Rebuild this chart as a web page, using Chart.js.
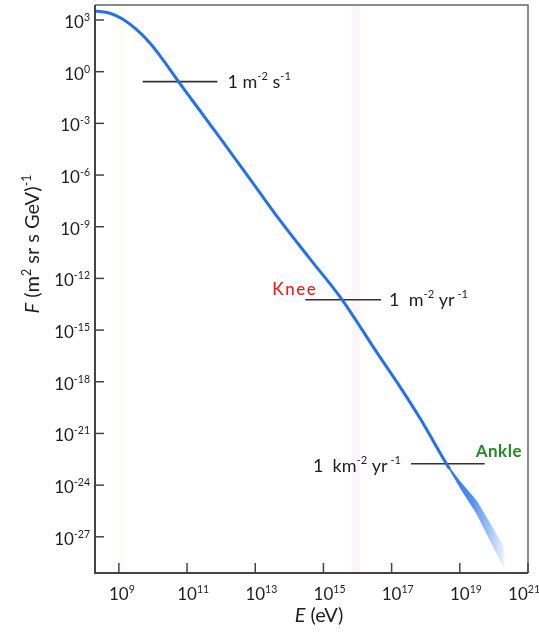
<!DOCTYPE html>
<html lang="en">

<head>
    <meta charset="UTF-8">
    <title>Cosmic ray spectrum</title>
    <style>
        body { margin: 0; background: #fff; }
    </style>
</head>

<body>
    <canvas id="myChart" width="539" height="639"></canvas>

    <script src="https://cdn.jsdelivr.net/npm/chart.js"></script>
    <script type="text/javascript">
        // flux curve (log10 of E in eV, log10 of F)
        const logE = [8.30, 8.74, 9.12, 9.53, 9.91, 10.29, 10.75, 11.43, 11.95, 12.80, 13.71, 14.60, 15.55, 16.60, 17.20, 17.86, 18.62, 18.70];
        const logF = [3.52, 3.39, 3.04, 2.42, 1.66, 0.70, -0.58, -2.40, -3.80, -6.10, -8.59, -10.85, -13.24, -16.40, -18.15, -20.21, -22.80, -23.05];

        // uncertain high energy end, drawn as a widening band
        const bandLogE = [18.62, 19.00, 19.50, 20.29];
        const bandLogF = [-22.80, -23.95, -25.30, -28.17];
        const bandHalf = [0.06, 0.20, 0.40, 0.62];

        // reference flux levels
        const refNames = ['1 m⁻² s⁻¹', '1 m⁻² yr⁻¹', '1 km⁻² yr⁻¹'];
        const refLogF = [-0.58, -13.24, -22.76];
        const refFromLogE = [9.70, 14.47, 17.57];
        const refToLogE = [11.89, 16.69, 19.73];

        // ticks: value and the exponent shown as superscript on "10"
        const xTickValues = [1e9, 1e11, 1e13, 1e15, 1e17, 1e19, 1e21];
        const xTickLabels = ['9', '11', '13', '15', '17', '19', '21'];
        const yTickValues = [1e3, 1, 1e-3, 1e-6, 1e-9, 1e-12, 1e-15, 1e-18, 1e-21, 1e-24, 1e-27];
        const yTickLabels = ['3', '0', '-3', '-6', '-9', '-12', '-15', '-18', '-21', '-24', '-27'];

        const FONT = 'Lato, "Noto Sans", sans-serif';
        const BLUE = '#2471ea';
        const INK = '#1e1e1e';

        const pts = (xs, ys) => xs.map((x, i) => ({ x: Math.pow(10, x), y: Math.pow(10, ys[i]) }));

        // text with superscripts: parts = [[text, isSup, isItalic], ...]
        function setFont(c, p, size) {
            const s = p[1] ? size * 0.62 : size;
            c.font = (p[2] ? 'italic ' : '') + s + 'px ' + FONT;
        }
        function richWidth(c, parts, size) {
            let w = 0;
            parts.forEach(p => { setFont(c, p, size); w += c.measureText(p[0]).width; });
            return w;
        }
        function drawRich(c, parts, x, y, size, color) {
            c.fillStyle = color;
            c.textBaseline = 'alphabetic';
            c.textAlign = 'left';
            parts.forEach(p => {
                setFont(c, p, size);
                c.fillText(p[0], x, p[1] ? y - size * 0.42 : y);
                x += c.measureText(p[0]).width;
            });
        }

        const decor = {
            id: 'decor',
            beforeDatasetsDraw(chart) {
                const c = chart.ctx, xs = chart.scales.x, a = chart.chartArea;
                // faint vertical shades
                [[9.0, 9.2, 'rgba(250,250,230,0.3)'], [15.82, 16.08, 'rgba(246,236,250,0.45)']].forEach(b => {
                    const x0 = xs.getPixelForValue(Math.pow(10, b[0]));
                    const x1 = xs.getPixelForValue(Math.pow(10, b[1]));
                    c.fillStyle = b[2];
                    c.fillRect(x0, a.top, x1 - x0, a.bottom - a.top);
                });
            },
            afterDraw(chart) {
                const c = chart.ctx, xs = chart.scales.x, ys = chart.scales.y, a = chart.chartArea;
                const W = chart.width;
                c.save();
                // frame
                c.strokeStyle = '#666';
                c.lineWidth = 1.5;
                c.beginPath();
                c.moveTo(a.left, a.top); c.lineTo(a.right, a.top); c.lineTo(a.right, a.bottom);
                c.stroke();
                c.strokeStyle = '#444';
                c.lineWidth = 2;
                c.beginPath();
                c.moveTo(a.left, a.top); c.lineTo(a.left, a.bottom); c.lineTo(a.right, a.bottom);
                c.stroke();

                // inward ticks and their labels
                const ts = 17;
                c.lineWidth = 1.5;
                xs.ticks.forEach((t, i) => {
                    const px = xs.getPixelForValue(t.value);
                    c.strokeStyle = '#444';
                    c.beginPath(); c.moveTo(px, a.bottom); c.lineTo(px, a.bottom - 10); c.stroke();
                    const parts = [['10', 0], [xTickLabels[i], 1]];
                    c.font = ts + 'px ' + FONT;
                    const w10 = c.measureText('10').width;
                    const lx = Math.min(px - w10 / 2, W - richWidth(c, parts, ts) + 1);
                    drawRich(c, parts, lx, a.bottom + 27, ts, INK);
                });
                ys.ticks.forEach((t, i) => {
                    const py = ys.getPixelForValue(t.value);
                    c.strokeStyle = '#444';
                    c.beginPath(); c.moveTo(a.left, py); c.lineTo(a.left + 9, py); c.stroke();
                    const parts = [['10', 0], [yTickLabels[i], 1]];
                    drawRich(c, parts, a.left - 5 - richWidth(c, parts, ts), py + 8, ts, INK);
                });

                // reference level labels
                const sz = 18;
                const l1 = [['1 m', 0], ['-2', 1], [' s', 0], ['-1', 1]];
                const l2 = [['1  m', 0], ['-2', 1], [' yr', 0], [' -1', 1]];
                const l3 = [['1  km', 0], ['-2', 1], [' yr', 0], [' -1', 1]];
                drawRich(c, l1, xs.getPixelForValue(Math.pow(10, refToLogE[0])) + 10,
                    ys.getPixelForValue(Math.pow(10, refLogF[0])) + 6, sz, INK);
                drawRich(c, l2, xs.getPixelForValue(Math.pow(10, refToLogE[1])) + 8,
                    ys.getPixelForValue(Math.pow(10, refLogF[1])) + 6, sz, INK);
                const x3 = xs.getPixelForValue(Math.pow(10, refFromLogE[2])) - 10;
                drawRich(c, l3, x3 - richWidth(c, l3, sz),
                    ys.getPixelForValue(Math.pow(10, refLogF[2])) + 8, sz, INK);

                // Knee / Ankle
                c.font = '500 17px ' + FONT;
                c.fillStyle = '#ee1c1c';
                c.textAlign = 'left';
                c.textBaseline = 'alphabetic';
                c.letterSpacing = '1.5px';
                c.fillText('Knee', xs.getPixelForValue(Math.pow(10, refFromLogE[1])) - 33,
                    ys.getPixelForValue(Math.pow(10, refLogF[1])) - 5);
                c.letterSpacing = '0.5px';
                c.font = 'bold 17px ' + FONT;
                c.fillStyle = '#1e8c22';
                c.fillText('Ankle', xs.getPixelForValue(Math.pow(10, refToLogE[2])) - 9,
                    ys.getPixelForValue(Math.pow(10, refLogF[2])) - 7);
                c.letterSpacing = '0px';

                // axis titles
                const tz = 20;
                const yt = [['F', 0, 1], [' (m', 0], ['2', 1], [' sr s GeV)', 0], ['-1', 1]];
                c.save();
                c.translate(39, 244);
                c.rotate(-Math.PI / 2);
                drawRich(c, yt, -richWidth(c, yt, tz) / 2, 0, tz, INK);
                c.restore();
                const xt = [['E', 0, 1], [' (eV)', 0]];
                drawRich(c, xt, 319 - richWidth(c, xt, tz) / 2, 622, tz, INK);
                c.restore();
            }
        };

        const ctx = document.getElementById('myChart');

        const bandFill = (context) => {
            const chart = context.chart, a = chart.chartArea;
            if (!a) return BLUE;
            const xs = chart.scales.x;
            const x0 = xs.getPixelForValue(Math.pow(10, bandLogE[0]));
            const x1 = xs.getPixelForValue(Math.pow(10, bandLogE[bandLogE.length - 1]));
            const g = chart.ctx.createLinearGradient(x0, 0, x1, 0);
            g.addColorStop(0, 'rgba(36,113,234,1)');
            g.addColorStop(0.45, 'rgba(55,125,240,0.85)');
            g.addColorStop(0.75, 'rgba(95,155,245,0.6)');
            g.addColorStop(1, 'rgba(150,190,250,0.25)');
            return g;
        };

        const refSets = refLogF.map((f, i) => ({
            label: refNames[i],
            data: pts([refFromLogE[i], refToLogE[i]], [f, f]),
            borderColor: '#333',
            borderWidth: 1.6,
            pointRadius: 0,
            order: 3
        }));

        let graphData = {
            type: 'line',
            data: {
                datasets: [
                    {
                        label: 'Flux',
                        data: pts(logE, logF),
                        borderColor: BLUE,
                        borderWidth: 3,
                        pointRadius: 0,
                        cubicInterpolationMode: 'monotone',
                        order: 1
                    },
                    {
                        label: 'band upper',
                        data: pts(bandLogE, bandLogF.map((f, i) => f + bandHalf[i])),
                        borderWidth: 0,
                        borderColor: 'rgba(0,0,0,0)',
                        backgroundColor: bandFill,
                        fill: '+1',
                        pointRadius: 0,
                        tension: 0,
                        order: 2
                    },
                    {
                        label: 'band lower',
                        data: pts(bandLogE, bandLogF.map((f, i) => f - bandHalf[i])),
                        borderWidth: 0,
                        borderColor: 'rgba(0,0,0,0)',
                        pointRadius: 0,
                        fill: false,
                        tension: 0,
                        order: 2
                    },
                    ...refSets
                ]
            },
            options: {
                responsive: false,
                animation: false,
                devicePixelRatio: 1,
                layout: { autoPadding: false, padding: { left: 0, right: 11, top: 5, bottom: 0 } },
                plugins: { legend: { display: false }, tooltip: { enabled: false } },
                scales: {
                    x: {
                        type: 'logarithmic',
                        min: Math.pow(10, 8.3),
                        max: 1e21,
                        grid: { display: false },
                        border: { display: false },
                        afterBuildTicks: (s) => { s.ticks = xTickValues.map(v => ({ value: v })); },
                        afterFit: (s) => { s.height = 66; },
                        ticks: { display: false }
                    },
                    y: {
                        type: 'logarithmic',
                        min: Math.pow(10, -29.1),
                        max: Math.pow(10, 3.87),
                        grid: { display: false },
                        border: { display: false },
                        afterBuildTicks: (s) => { s.ticks = yTickValues.map(v => ({ value: v })); },
                        afterFit: (s) => { s.width = 95; },
                        ticks: { display: false }
                    }
                }
            },
            plugins: [decor]
        };

        let rtchart = new Chart(ctx, graphData);
    </script>
</body>

</html>
